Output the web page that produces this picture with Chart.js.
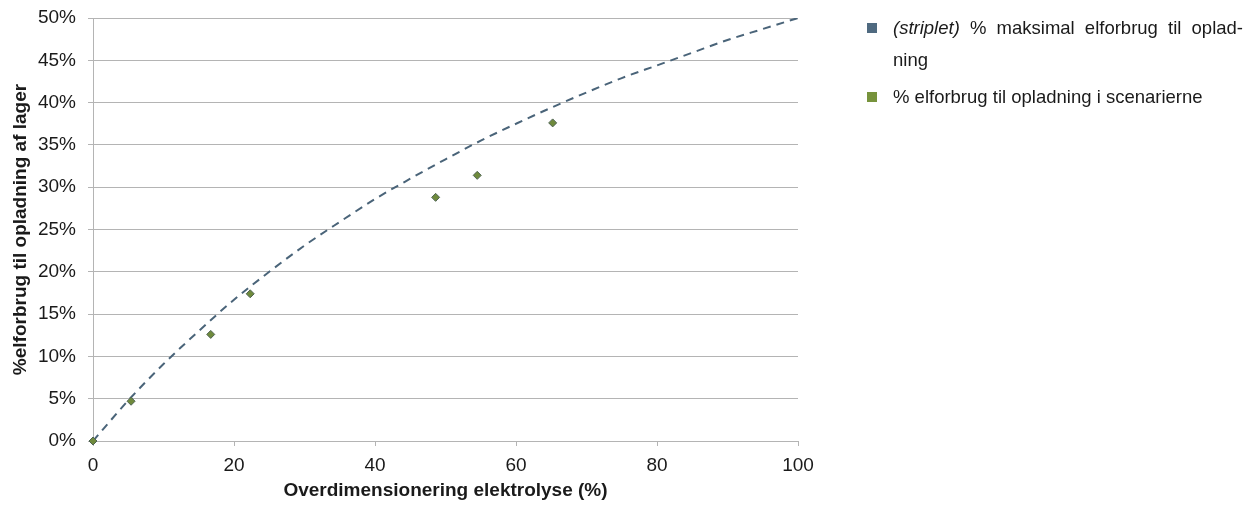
<!DOCTYPE html>
<html>
<head>
<meta charset="utf-8">
<script src="https://cdn.jsdelivr.net/npm/chart.js@4"></script>
<style>
  html, body { margin: 0; padding: 0; background: #fff; }
  #wrap { position: relative; width: 1258px; height: 507px; font-family: "Liberation Sans", Arial, sans-serif; }
  #c { position: absolute; left: 0; top: 0; }
  .leg { position: absolute; font-size: 18.5px; color: #1a1a1a; line-height: 32px; }
  .leg .sw { position: absolute; left: -26px; top: 11px; width: 10px; height: 10px; }
  .leg .just { text-align: justify; text-align-last: justify; }
</style>
</head>
<body>
<div id="wrap">
  <canvas id="c" width="1258" height="507"></canvas>
  <div class="leg" id="leg0" style="left:893px; top:12px; width:350px;"></div>
  <div class="leg" id="leg1" style="left:893px; top:81px; width:350px;"></div>
</div>
<script>
// Maximum charging share curve (dashed)
const curveX = [0, 5, 10, 15, 20, 25, 30, 35, 40, 45, 50, 55, 60, 65, 70, 75, 80, 85, 90, 95, 100];
const curveY = [0, 4.8, 9.1, 13.0, 16.7, 20.0, 23.1, 25.9, 28.6, 31.0, 33.3, 35.5, 37.5, 39.4, 41.2, 42.9, 44.4, 45.9, 47.4, 48.7, 50.0];

// Scenario results
const scenX = [0, 5.4, 16.7, 22.3, 48.6, 54.5, 65.2];
const scenY = [0, 4.7, 12.6, 17.4, 28.8, 31.4, 37.6];

const yTicks = [0, 5, 10, 15, 20, 25, 30, 35, 40, 45, 50];
const xTicks = [0, 20, 40, 60, 80, 100];

const seriesNames = ['(striplet) % maksimal elforbrug til opladning', '% elforbrug til opladning i scenarierne'];
const seriesColors = ['#4f6a80', '#77933c'];

const FONT = '"Liberation Sans", Arial, sans-serif';
const GRID = '#b4b4b4';
const TXT = '#1a1a1a';

// Legend (HTML, so the first entry can wrap with a hyphen like the printed version)
(function buildLegend() {
  const l0 = document.getElementById('leg0');
  l0.innerHTML = '<span class="sw" style="background:' + seriesColors[0] + '"></span>' +
    '<div class="just"><i>(striplet)</i> % maksimal elforbrug til oplad-</div><div>ning</div>';
  const l1 = document.getElementById('leg1');
  l1.innerHTML = '<span class="sw" style="background:' + seriesColors[1] + '"></span>' +
    '<div>' + seriesNames[1] + '</div>';
})();

new Chart(document.getElementById('c'), {
  type: 'scatter',
  data: {
    datasets: [
      {
        label: seriesNames[0],
        data: curveX.map((x, i) => ({ x, y: curveY[i] })),
        showLine: true,
        borderColor: '#4a6479',
        borderWidth: 2,
        borderDash: [8, 6],
        pointRadius: 0,
        cubicInterpolationMode: 'monotone',
        order: 2
      },
      {
        label: seriesNames[1],
        data: scenX.map((x, i) => ({ x, y: scenY[i] })),
        showLine: false,
        clip: false,
        pointStyle: 'rectRot',
        pointRadius: 4,
        backgroundColor: '#6f8a3c',
        borderColor: '#4f6453',
        borderWidth: 1,
        order: 1
      }
    ]
  },
  options: {
    responsive: false,
    animation: false,
    layout: { padding: { left: 0, right: 460, top: 18, bottom: 0 } },
    plugins: { legend: { display: false }, tooltip: { enabled: false } },
    scales: {
      x: {
        type: 'linear',
        min: 0, max: 100,
        afterBuildTicks: s => { s.ticks = xTicks.map(v => ({ value: v })); },
        afterFit: s => { s.height = 66; s.paddingLeft = 0; s.paddingRight = 0; },
        border: { color: GRID, width: 1 },
        grid: { drawOnChartArea: false, drawTicks: true, tickLength: 5, color: GRID },
        ticks: { color: TXT, font: { family: FONT, size: 19 }, padding: 8, maxRotation: 0 },
        title: { display: true, text: 'Overdimensionering elektrolyse (%)', color: TXT,
                 font: { family: FONT, size: 19, weight: 'bold' }, padding: { top: 0, bottom: 5 } }
      },
      y: {
        type: 'linear',
        min: 0, max: 50,
        afterBuildTicks: s => { s.ticks = yTicks.map(v => ({ value: v })); },
        afterFit: s => { s.width = 93; s.paddingTop = 0; s.paddingBottom = 0; },
        border: { color: GRID, width: 1 },
        grid: { drawOnChartArea: true, drawTicks: true, tickLength: 5, color: GRID, lineWidth: 1 },
        ticks: { color: TXT, font: { family: FONT, size: 19 }, padding: 12, callback: v => v + '%' },
        title: { display: true, text: '%elforbrug til opladning af lager', color: TXT,
                 font: { family: FONT, size: 19, weight: 'bold' }, padding: { top: 9, bottom: 0 } }
      }
    }
  }
});
</script>
</body>
</html>
